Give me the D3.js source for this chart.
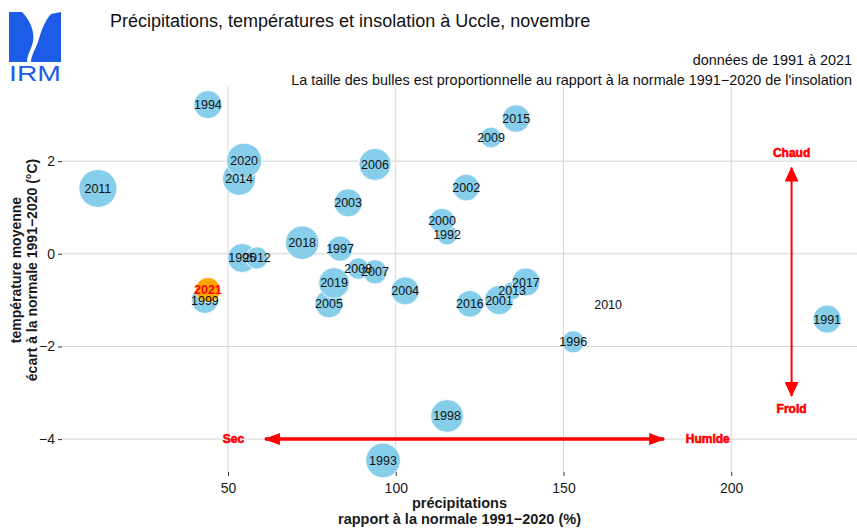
<!DOCTYPE html>
<html>
<head>
<meta charset="utf-8">
<script src="https://cdn.jsdelivr.net/npm/d3@7"></script>
<style>
  body { margin: 0; background: #fff; }
  svg { font-family: "Liberation Sans", Arial, sans-serif; }
</style>
</head>
<body>
<svg id="chart" width="857" height="530"></svg>
<script>
// Uccle, November: precipitation ratio (%), temperature anomaly (°C), sunshine ratio (%)
var years  = [1991, 1992, 1993, 1994, 1995, 1996, 1997, 1998, 1999, 2000,
              2001, 2002, 2003, 2004, 2005, 2006, 2007, 2008, 2009, 2010,
              2011, 2012, 2013, 2014, 2015, 2016, 2017, 2018, 2019, 2020, 2021];
var precip = [228.6, 115.3, 96.2, 44.0, 54.2, 152.9, 83.4, 115.3, 43.1, 113.8,
              130.8, 121.0, 85.8, 102.8, 80.1, 93.8, 93.8, 88.8, 128.4, 163.3,
              11.2, 58.6, 134.7, 53.3, 135.9, 122.1, 138.8, 72.1, 81.6, 54.8, 44.0];
var temp   = [-1.41, 0.41, -4.46, 3.22, -0.09, -1.90, 0.11, -3.50, -1.00, 0.71,
              -1.00, 1.43, 1.10, -0.80, -1.08, 1.93, -0.39, -0.32, 2.51, -1.10,
              1.41, -0.09, -0.80, 1.62, 2.92, -1.08, -0.61, 0.24, -0.63, 2.01, -0.78];
var insol  = [118, 78, 163, 118, 124, 86, 101, 150, 110, 101,
              124, 110, 118, 118, 118, 144, 96, 82, 80, 40,
              190, 86, 70, 151, 115, 110, 118, 154, 135, 166, 99];

var xTicks = [50, 100, 150, 200];
var yTicks = [2, 0, -2, -4];
var currentYear = 2021;

var svg = d3.select("#chart");
var panel = { left: 62, right: 857, top: 87, bottom: 472 };

var x = d3.scaleLinear().domain([0.5, 237.5]).range([panel.left, panel.right]);
var y = d3.scaleLinear().domain([-4.71, 3.60]).range([panel.bottom, panel.top]);

// bubble radius ~ sqrt of rescaled sunshine ratio (like ggplot scale_size)
var insolExtent = d3.extent(insol);
var rescale = d3.scaleLinear().domain(insolExtent).range([0, 1]);
var rScale = d3.scaleLinear().domain([0, 1]).range([1.3, 19]);
function radius(v) { return rScale(Math.sqrt(rescale(v))); }

var points = years.map(function (yr, i) {
    return { year: yr, p: precip[i], t: temp[i], s: insol[i] };
});

// grid
var grid = svg.append("g");
grid.selectAll("line.vx").data(xTicks).enter().append("line")
    .attr("x1", d => x(d)).attr("x2", d => x(d))
    .attr("y1", panel.top).attr("y2", panel.bottom)
    .attr("stroke", "#d4d4d4").attr("stroke-width", 1);
grid.selectAll("line.hy").data(yTicks).enter().append("line")
    .attr("x1", panel.left).attr("x2", panel.right)
    .attr("y1", d => y(d)).attr("y2", d => y(d))
    .attr("stroke", "#d4d4d4").attr("stroke-width", 1);

// axes
var xAxis = d3.axisBottom(x).tickValues(xTicks).tickSize(4).tickPadding(7)
    .tickFormat(d3.format("d"));
var yAxis = d3.axisLeft(y).tickValues(yTicks).tickSize(4).tickPadding(3)
    .tickFormat(d => d < 0 ? "\u2212" + Math.abs(d) : d);

var gx = svg.append("g").attr("transform", "translate(0," + panel.bottom + ")").call(xAxis);
var gy = svg.append("g").attr("transform", "translate(" + panel.left + ",0)").call(yAxis);
[gx, gy].forEach(function (g) {
    g.select(".domain").remove();
    g.selectAll(".tick line").attr("stroke", "#333");
    g.selectAll(".tick text").attr("fill", "#1a1a1a")
        .style("font-size", "14px").style("font-family", "Liberation Sans, Arial, sans-serif");
});

// arrows
var defs = svg.append("defs");
defs.append("marker").attr("id", "headH")
    .attr("viewBox", "0 0 16 12").attr("refX", 15).attr("refY", 6)
    .attr("markerWidth", 16).attr("markerHeight", 12)
    .attr("markerUnits", "userSpaceOnUse").attr("orient", "auto-start-reverse")
    .append("path").attr("d", "M0,0 L16,6 L0,12 Z").attr("fill", "red");
defs.append("marker").attr("id", "headV")
    .attr("viewBox", "0 0 15 14").attr("refX", 14).attr("refY", 7)
    .attr("markerWidth", 15).attr("markerHeight", 14)
    .attr("markerUnits", "userSpaceOnUse").attr("orient", "auto-start-reverse")
    .append("path").attr("d", "M0,0 L15,7 L0,14 Z").attr("fill", "red");

svg.append("line")
    .attr("x1", x(61)).attr("x2", x(180)).attr("y1", y(-4)).attr("y2", y(-4))
    .attr("stroke", "red").attr("stroke-width", 3.5)
    .attr("marker-start", "url(#headH)").attr("marker-end", "url(#headH)");
svg.append("line")
    .attr("x1", x(218)).attr("x2", x(218)).attr("y1", y(1.86)).attr("y2", y(-3.07))
    .attr("stroke", "red").attr("stroke-width", 2)
    .attr("marker-start", "url(#headV)").attr("marker-end", "url(#headV)");

var arrowLabels = [
    { txt: "Sec", p: 51.6, t: -4 },
    { txt: "Humide", p: 193, t: -4 },
    { txt: "Chaud", p: 218, t: 2.17 },
    { txt: "Froid", p: 218, t: -3.35 }
];
svg.selectAll("text.dir").data(arrowLabels).enter().append("text")
    .attr("x", d => x(d.p)).attr("y", d => y(d.t)).attr("dy", "0.35em")
    .attr("text-anchor", "middle")
    .attr("fill", "red").attr("stroke", "red").attr("stroke-width", 0.6)
    .style("font-size", "12px").style("font-weight", "bold")
    .text(d => d.txt);

// bubbles
svg.append("g").selectAll("circle").data(points).enter().append("circle")
    .attr("cx", d => x(d.p)).attr("cy", d => y(d.t)).attr("r", d => radius(d.s))
    .attr("fill", d => d.year === currentYear ? "orange" : "#87ceeb")
    .attr("stroke", "#fff").attr("stroke-width", 0.8);

svg.append("g").selectAll("text").data(points).enter().append("text")
    .attr("x", d => x(d.p)).attr("y", d => y(d.t)).attr("dy", "0.36em")
    .attr("text-anchor", "middle")
    .attr("fill", d => d.year === currentYear ? "red" : "#111")
    .style("font-size", "12.5px")
    .style("font-weight", d => d.year === currentYear ? "bold" : "normal")
    .text(d => d.year);

// axis titles
svg.append("text").attr("x", (panel.left + panel.right) / 2).attr("y", 508)
    .attr("text-anchor", "middle").style("font-size", "14.5px").style("font-weight", "bold")
    .attr("fill", "#1a1a1a").text("précipitations");
svg.append("text").attr("x", (panel.left + panel.right) / 2).attr("y", 524)
    .attr("text-anchor", "middle").style("font-size", "14.5px").style("font-weight", "bold")
    .attr("fill", "#1a1a1a").text("rapport à la normale 1991\u22122020 (%)");

var yTitle = svg.append("g").attr("transform", "translate(21,270) rotate(-90)");
yTitle.append("text").attr("x", 0).attr("y", 0).attr("text-anchor", "middle")
    .style("font-size", "14px").style("font-weight", "bold").attr("fill", "#1a1a1a")
    .text("température moyenne");
yTitle.append("text").attr("x", 0).attr("y", 16).attr("text-anchor", "middle")
    .style("font-size", "14px").style("font-weight", "bold").attr("fill", "#1a1a1a")
    .text("écart à la normale 1991\u22122020 (°C)");

// titles
svg.append("text").attr("x", 110).attr("y", 27)
    .style("font-size", "18px").attr("fill", "#111")
    .text("Précipitations, températures et insolation à Uccle, novembre");
svg.append("text").attr("x", 852).attr("y", 65).attr("text-anchor", "end")
    .style("font-size", "14.4px").attr("fill", "#111")
    .text("données de 1991 à 2021");
svg.append("text").attr("x", 852).attr("y", 85).attr("text-anchor", "end")
    .style("font-size", "14.4px").attr("fill", "#111")
    .text("La taille des bulles est proportionnelle au rapport à la normale 1991\u22122020 de l'insolation");

// IRM logo
var logo = svg.append("g");
var blue = "#1c5ce6";
logo.append("path").attr("fill", blue)
    .attr("d", "M9,12 L22,12 C30,20 35,32 33,42 C31,50 27,55 27,62 L9,62 Z");
logo.append("path").attr("fill", blue)
    .attr("d", "M61,12 L51,14 C44,22 41,32 38,42 C35,50 31,56 31,62 L61,62 Z");
logo.append("text").attr("x", 9).attr("y", 81)
    .attr("textLength", 52).attr("lengthAdjust", "spacingAndGlyphs")
    .attr("fill", blue).style("font-size", "22px").text("IRM");
</script>
</body>
</html>
